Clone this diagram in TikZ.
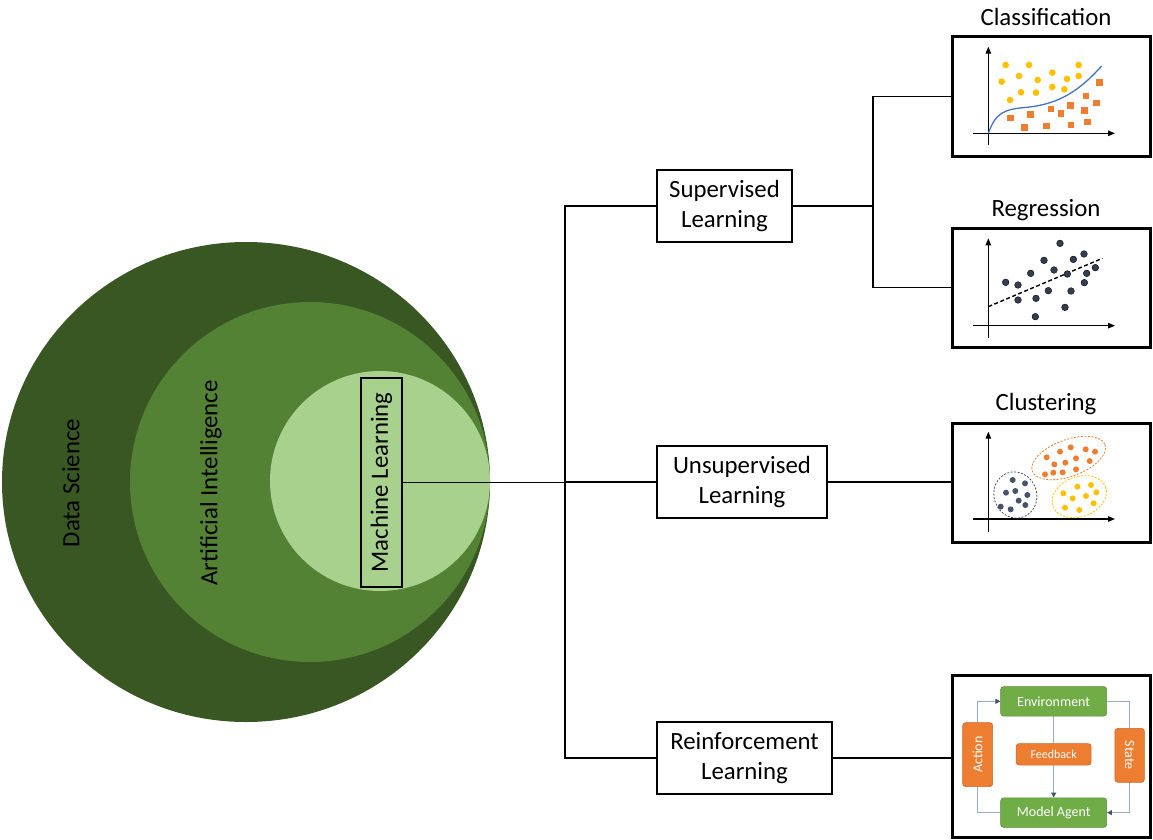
\documentclass[tikz,border=0pt]{standalone}
\usepackage{fontspec}
\setmainfont{Carlito}
\usetikzlibrary{arrows.meta,backgrounds}

\definecolor{dsgreen}{HTML}{385723}
\definecolor{aigreen}{HTML}{548235}
\definecolor{mlgreen}{HTML}{A9D18E}
\definecolor{envgreen}{HTML}{70AD47}
\definecolor{accorange}{HTML}{ED7D31}
\definecolor{accyellow}{HTML}{FFC000}
\definecolor{accblue}{HTML}{4472C4}
\definecolor{slate}{HTML}{44546A}
\definecolor{darkslate}{HTML}{333F50}
\definecolor{flowline}{HTML}{9AACC4}

\tikzset{
  big/.style={font=\fontsize{24.8}{29.5}\selectfont},
  catbox/.style={draw, line width=1.5pt, fill=white, align=center,
    minimum height=72pt, inner sep=0pt, big},
  mlbox/.style={draw, line width=1.5pt, rotate=90, minimum width=209pt,
    minimum height=41pt, inner sep=0pt, big},
  panel/.style={draw, line width=3pt, minimum width=198pt,
    minimum height=119pt, inner sep=0pt},
  link/.style={line width=1.5pt},
  axis/.style={line width=1.1pt, -{Triangle[length=7pt,width=5.5pt]}},
  envbox/.style={fill=envgreen, draw=envgreen!80!black, line width=0.6pt,
    rounded corners=3pt, text=white, minimum width=106pt,
    minimum height=29.5pt, inner sep=0pt, font=\fontsize{14}{16}\selectfont},
  orbox/.style={fill=accorange, draw=accorange!85!black, line width=0.6pt,
    rounded corners=3pt, text=white, inner sep=0pt,
    font=\fontsize{14}{16}\selectfont},
  flow/.style={draw=flowline, line width=1.1pt,
    -{Triangle[length=5pt,width=5pt,color=slate]}},
  clsdot/.style={fill=accyellow},
  regdot/.style={fill=darkslate, draw=black, line width=0.4pt},
}

\begin{document}
\begin{tikzpicture}[x=1pt,y=-1pt]
\useasboundingbox (0,0) rectangle (1153,840);

% nested fields: data science > artificial intelligence > machine learning
\fill[dsgreen] (246,482) ellipse (244 and 240);
\fill[aigreen] (310,482) circle (180);
\fill[mlgreen] (380,481) circle (110);

\node[big, rotate=90] (ds) at (71,483) {Data Science};
\node[big, rotate=90] (ai) at (211,483) {Artificial Intelligence};
\node[mlbox] (ml) at (381.5,482.5) {Machine Learning};

% learning categories
\node[catbox, minimum width=135pt] (sup) at (724.5,206) {Supervised\\Learning};
\node[catbox, minimum width=170pt] (uns) at (742,482) {Unsupervised\\Learning};
\node[catbox, minimum width=175pt] (rl) at (744.5,758) {Reinforcement\\Learning};

\coordinate (trunk) at (565,482);
\draw[link] (ml.south) -- (ml.south -| trunk);
\draw[link] (sup.west) -- (sup.west -| trunk) -- (rl.west -| trunk) -- (rl.west);
\draw[link] (uns.west) -- (uns.west -| trunk);

% example panels
\node[panel] (cls) at (1051,96.5) {};
\node[panel] (reg) at (1051,287.5) {};
\node[panel] (clu) at (1051,482.5) {};
\node[panel, minimum height=162pt] (rlp) at (1051,756.5) {};

\node[big, anchor=base] (clst) at (1046,26) {Classification};
\node[big, anchor=base] (regt) at (1046,216) {Regression};
\node[big, anchor=base] (clut) at (1046,410) {Clustering};

\coordinate (fork) at (873,206);
\draw[link] (sup.east) -- (sup.east -| fork);
\draw[link] (cls.west) -- (cls.west -| fork) -- (reg.west -| fork) -- (reg.west);
\draw[link] (uns.east) -- (uns.east -| clu.west);
\draw[link] (rl.east) -- (rl.east -| rlp.west);

% classification plot
\begin{scope}[shift={(940,30)}, scale=1/3]
  \draw[axis] (145,345) -- (145,50);
  \draw[axis] (100,310) -- (525,310);
  \foreach \p in {(197,105),(267,105),(416,105),(185,155),(237,138),(293,150),
      (337,128),(381,147),(416,138),(243,187),(288,188),(337,171),(373,178),(210,210)}
    \fill[clsdot] \p circle (10);
  \foreach \p in {(478,157),(438,198),(469,219),(392,226),(333,237),(363,250),
      (434,241),(211,264),(272,254),(253,292),(320,288),(393,285),(443,276)}
    \fill[accorange] \p ++(-10,-10) rectangle ++(20,20);
  \draw[accblue, line width=1.3pt] (145,310) .. controls (168,245) and (195,238) .. (260,232)
    .. controls (360,222) and (420,180) .. (485,108);
\end{scope}

% regression plot
\begin{scope}[shift={(940,220)}, scale=1/3]
  \draw[axis] (145,355) -- (145,55);
  \draw[axis] (100,317) -- (525,317);
  \draw[line width=1.4pt, dash pattern=on 4pt off 2.5pt] (145,260) -- (487,115);
  \foreach \p in {(197,187),(234,195),(272,160),(312,121),(360,70),(342,150),
      (400,118),(432,102),(382,162),(440,160),(466,143),(433,188),(393,213),
      (325,212),(288,235),(234,240),(286,290),(375,262)}
    \filldraw[regdot] \p circle (10);
\end{scope}

% clustering plot
\begin{scope}[shift={(940,410)}, scale=1/3]
  \draw[axis] (145,365) -- (145,65);
  \draw[axis] (100,327) -- (525,327);
  \draw[slate, line width=0.8pt, dash pattern=on 2pt off 1.5pt,
    rotate around={20:(226,255)}] (226,255) ellipse (64 and 70);
  \draw[accorange, line width=0.8pt, dash pattern=on 2pt off 1.5pt,
    rotate around={20:(386,144)}] (386,144) ellipse (116 and 55);
  \draw[accyellow, line width=0.8pt, dash pattern=on 2pt off 1.5pt,
    rotate around={20:(418,260)}] (418,260) ellipse (84 and 60);
  \foreach \p in {(218,210),(255,220),(198,248),(226,243),(262,255),(236,272),
      (182,290),(212,298),(256,285)}
    \fill[slate] \p circle (9);
  \foreach \p in {(320,142),(360,125),(392,112),(437,118),(465,125),(343,163),
      (376,158),(408,145),(449,153),(315,193),(340,188),(368,187),(408,178)}
    \fill[accorange] \p circle (9);
  \foreach \p in {(370,250),(412,230),(453,225),(398,265),(438,258),(469,247),
      (375,293),(418,300),(461,280)}
    \fill[accyellow] \p circle (9);
\end{scope}

% reinforcement loop
\begin{scope}[shift={(940,670)}, scale=1/3]
  \node[envbox] (env) at (341,94) {Environment};
  \node[envbox] (agent) at (341,428) {Model Agent};
  \node[orbox, rotate=90, minimum width=64pt, minimum height=30pt] (act) at (113,254) {Action};
  \node[orbox, rotate=-90, minimum width=54pt, minimum height=29.5pt] (state) at (569,256) {State};
  \node[orbox, minimum width=75pt, minimum height=21.5pt,
    font=\fontsize{12}{14}\selectfont] (fb) at (341,253) {Feedback};
  \begin{scope}[on background layer]
    \draw[flow] (agent.west) -| (act.center) |- (env.west);
    \draw[flow] (env.east) -| (state.center) |- (agent.east);
    \draw[flow] (env.south) -- (agent.north);
  \end{scope}
\end{scope}
\end{tikzpicture}
\end{document}
